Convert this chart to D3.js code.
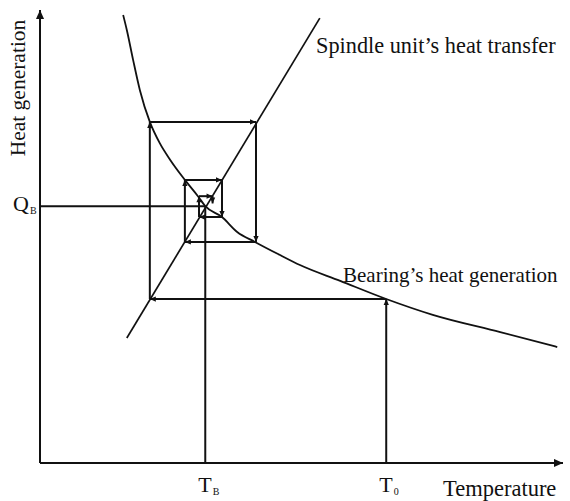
<!DOCTYPE html>
<html>
<head>
<meta charset="utf-8">
<title>Heat balance of spindle bearing</title>
<script src="https://cdn.jsdelivr.net/npm/d3@7"></script>
<style>
  body { margin: 0; background: #fff; }
  text { font-family: "Liberation Serif", "DejaVu Serif", serif; fill: #111; }
</style>
</head>
<body>
<div id="chart"></div>
<script>
// bearing heat generation curve (temperature, heat)
const bearingT = [15.9, 16.6, 17.8, 19.1, 21.0, 22.9, 24.9, 27.7, 30.2, 31.6, 34.8, 37.7, 41.1, 45.9, 49.7, 57.4, 66.2, 75.1, 88.0, 98.9];
const bearingQ = [98.9, 95.6, 89.0, 82.3, 75.3, 70.6, 66.9, 62.5, 58.9, 56.7, 54.3, 51.0, 48.8, 45.9, 43.7, 40.2, 36.2, 32.7, 28.9, 25.6];

// spindle unit heat transfer, a straight line
const spindleT = [16.6, 53.5];
const spindleQ = [27.6, 98.2];

// iteration path starting from T0
const cobwebT = [66.2, 66.2, 21.0, 21.0, 41.3, 41.3, 27.7, 27.7, 34.8, 34.8, 30.4, 30.4, 33.0, 33.0];
const cobwebQ = [0, 36.2, 36.2, 75.3, 75.3, 48.8, 48.8, 62.5, 62.5, 54.3, 54.3, 58.9, 58.9, 57.3];

// balance point and start temperature
const balanceT = 31.6;
const balanceQ = 56.7;
const startT = 66.2;

const width = 570;
const height = 501;

const svg = d3.select('#chart')
  .append('svg')
  .attr('width', width)
  .attr('height', height);

const x = d3.scaleLinear().domain([0, 100]).range([40, 563]);
const y = d3.scaleLinear().domain([0, 100]).range([463, 10]);

// arrow heads
const defs = svg.append('defs');
defs.append('marker')
  .attr('id', 'arrow')
  .attr('viewBox', '0 -4 8 8')
  .attr('refX', 8)
  .attr('refY', 0)
  .attr('markerWidth', 7)
  .attr('markerHeight', 6)
  .attr('markerUnits', 'userSpaceOnUse')
  .attr('orient', 'auto')
  .append('path')
  .attr('d', 'M0,-3.5L8,0L0,3.5Z')
  .attr('fill', '#111');

defs.append('marker')
  .attr('id', 'axisArrow')
  .attr('viewBox', '0 -5 10 10')
  .attr('refX', 10)
  .attr('refY', 0)
  .attr('markerWidth', 10)
  .attr('markerHeight', 9)
  .attr('markerUnits', 'userSpaceOnUse')
  .attr('orient', 'auto')
  .append('path')
  .attr('d', 'M0,-4.5L10,0L0,4.5Z')
  .attr('fill', '#111');

// axes
svg.append('line')
  .attr('x1', x(0)).attr('y1', y(0))
  .attr('x2', x(0)).attr('y2', y(100))
  .attr('stroke', '#111').attr('stroke-width', 2)
  .attr('marker-end', 'url(#axisArrow)');

svg.append('line')
  .attr('x1', x(0)).attr('y1', y(0))
  .attr('x2', x(100)).attr('y2', y(0))
  .attr('stroke', '#111').attr('stroke-width', 2)
  .attr('marker-end', 'url(#axisArrow)');

// bearing curve
const bearing = bearingT.map((t, i) => [t, bearingQ[i]]);
const line = d3.line()
  .x(d => x(d[0]))
  .y(d => y(d[1]))
  .curve(d3.curveMonotoneX);

svg.append('path')
  .datum(bearing)
  .attr('d', line)
  .attr('fill', 'none')
  .attr('stroke', '#111')
  .attr('stroke-width', 1.8);

// spindle line
svg.append('path')
  .datum(spindleT.map((t, i) => [t, spindleQ[i]]))
  .attr('d', d3.line().x(d => x(d[0])).y(d => y(d[1])))
  .attr('fill', 'none')
  .attr('stroke', '#111')
  .attr('stroke-width', 1.7);

// balance point guide lines
svg.append('line')
  .attr('x1', x(0)).attr('y1', y(balanceQ))
  .attr('x2', x(balanceT)).attr('y2', y(balanceQ))
  .attr('stroke', '#111').attr('stroke-width', 2);

svg.append('line')
  .attr('x1', x(balanceT)).attr('y1', y(balanceQ))
  .attr('x2', x(balanceT)).attr('y2', y(0))
  .attr('stroke', '#111').attr('stroke-width', 2);

// cobweb steps, each with an arrow at its end
const steps = d3.range(cobwebT.length - 1).map(i => ({
  x1: cobwebT[i], y1: cobwebQ[i], x2: cobwebT[i + 1], y2: cobwebQ[i + 1]
}));

svg.selectAll('.step')
  .data(steps)
  .enter()
  .append('line')
  .attr('class', 'step')
  .attr('x1', d => x(d.x1))
  .attr('y1', d => y(d.y1))
  .attr('x2', d => x(d.x2))
  .attr('y2', d => y(d.y2))
  .attr('stroke', '#111')
  .attr('stroke-width', 2)
  .attr('marker-end', 'url(#arrow)');

// labels
svg.append('text')
  .attr('x', 316).attr('y', 53)
  .attr('font-size', '22.3px')
  .text('Spindle unit\u2019s heat transfer');

svg.append('text')
  .attr('x', 343).attr('y', 282)
  .attr('font-size', '21px')
  .text('Bearing\u2019s heat generation');

svg.append('text')
  .attr('x', 443).attr('y', 496)
  .attr('font-size', '22.5px')
  .text('Temperature');

svg.append('text')
  .attr('transform', 'translate(25,88) rotate(-90)')
  .attr('text-anchor', 'middle')
  .attr('font-size', '21.5px')
  .text('Heat generation');

// subscripted tick labels
function subLabel(px, py, main, sub, anchor) {
  const t = svg.append('text')
    .attr('x', px).attr('y', py)
    .attr('font-size', '22px')
    .attr('text-anchor', anchor);
  t.append('tspan').text(main);
  t.append('tspan')
    .attr('font-size', '10px')
    .attr('dx', 1)
    .attr('dy', 3)
    .text(sub);
}

subLabel(x(balanceT) - 7, 492, 'T', 'B', 'start');
subLabel(x(startT) - 7, 492, 'T', '0', 'start');
subLabel(13, 211, 'Q', 'B', 'start');
</script>
</body>
</html>
